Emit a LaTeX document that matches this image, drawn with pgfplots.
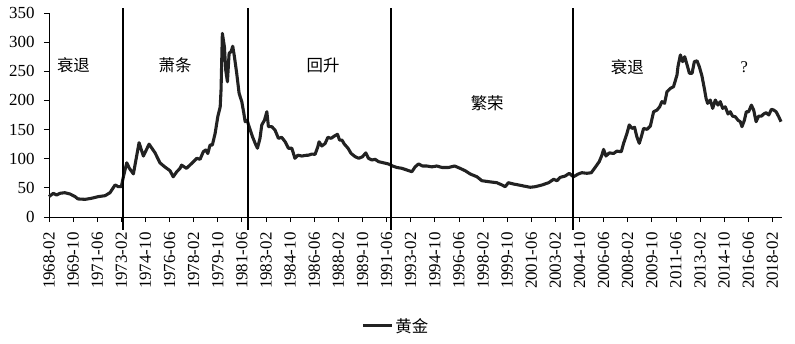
\documentclass[border=0pt]{standalone}
\usepackage{pgfplots}
\pgfplotsset{compat=1.18}
\usepackage{fontspec}
\setmainfont{Liberation Serif}
\newfontfamily\cjk{Noto Sans CJK SC}
\definecolor{lineblk}{HTML}{222222}
\begin{document}
\begin{tikzpicture}
\path[use as bounding box] (-49bp,-127bp) rectangle (746bp,217bp);
\begin{axis}[
 at={(0,0)}, anchor=south west,
 scale only axis, width=733bp, height=204bp,
 xmin=0, xmax=608, ymin=0, ymax=350,
 axis lines=left, axis line style={-, line width=0.8pt},
 ytick={0,50,...,350},
 xtick={0,20,...,600},
 xticklabels={1968-02,1969-10,1971-06,1973-02,1974-10,1976-06,1978-02,1979-10,1981-06,1983-02,1984-10,1986-06,1988-02,1989-10,1991-06,1993-02,1994-10,1996-06,1998-02,1999-10,2001-06,2003-02,2004-10,2006-06,2008-02,2009-10,2011-06,2013-02,2014-10,2016-06,2018-02},
 tick align=outside, major tick length=5bp,
 tick style={black, line width=0.8pt},
 xticklabel shift=7bp, yticklabel shift=6bp,
 x tick label style={rotate=90, anchor=east, font=\fontsize{17}{17}\selectfont},
 y tick label style={font=\fontsize{17}{17}\selectfont},
 /pgf/number format/assume math mode=true,
 clip=false,
 legend style={at={(axis description cs:0.473,-0.534)}, anchor=center, draw=none, fill=none, font=\cjk\fontsize{16.5}{17}\selectfont, /tikz/every legend entry/.append style={inner xsep=6bp}},
 legend image code/.code={\draw[#1] (0bp,0bp) -- (29bp,0bp);},
]
\addplot[lineblk, line width=3.1pt, line join=round] coordinates {
(0,35) (3.6,40.6) (6.4,37.7) (9,40.6) (13,41.7) (17.4,39.5) (21.6,35) (24,31) (30,30.3) (35,32) (41,35) (46.5,36.6) (50.6,41.7) (54.8,55) (57.5,52) (60,52) (61.7,69) (64.5,93) (66.7,83.5) (70,74) (74.7,127.5) (78.3,104.6) (83,125) (88,110) (92,93) (96,86) (100.4,79.4) (103,69) (106,77.7) (108.7,83.5)
(110,89) (114,83.5) (118.4,92) (122.6,100.7) (125.3,99) (128,112) (130,115) (131.7,109) (133.6,123.5) (135.5,123.5) (137.8,143.5) (140,172) (142,189) (142.7,218) (143.8,315) (145.5,292) (146.6,252) (148,232) (149.4,281) (151,283.5) (152.4,293) (153.8,275) (155.7,246.5) (157.7,212) (159.9,198) (161.6,178) (162.7,163.5) (164.3,166) (166,155) (168.8,137.7) (171,126.4) (172.9,118) (175,135) (176.5,158) (178.7,166) (180.7,180.6) (182,155) (184.8,155) (187.5,149) (190.3,135) (193,136.7) (195.9,129) (198.6,118) (201.4,118) (204,100.7) (206.4,106) (209.7,104.6) (213.8,106)
(215,106) (218,108) (220.7,107.5) (223,120.6) (224,129) (226.3,121.8) (229,126) (231.3,136.7) (234,135) (236.8,139) (239.3,142) (241,132) (243,132) (245,125) (248,118) (250.6,109) (254,103.4) (257,100.7) (260,103.4) (262.8,110) (265,100.7) (267.8,97.8) (270.5,99) (273.3,95) (277.4,93) (281.6,91) (285,87.5) (288.5,85) (292.7,83.5) (296.9,80.6) (301,77.7) (303.7,86) (306.5,91) (309.8,87.5) (313.4,87.5) (317.6,86) (321.7,87.5)
(325.9,85) (331.4,85) (336.4,87.5) (341,83.5) (345.2,79.4) (349.4,73.8) (355,69) (359,62.3) (364.6,60.6) (371.5,58.8) (375.7,55) (378.4,52) (381,58.8) (385.3,56.6) (389.5,55) (393.6,53.2) (399.2,51) (403.3,52) (409,55) (414.4,58.8) (418.6,64.7) (421.3,62.3) (424,68) (428.2,70.3)
(431.5,75) (435,69) (439,73.8) (442,76) (446.2,75) (449.8,76) (453,85) (456.4,95) (458.6,106) (460,116) (462,104.6) (464.7,110) (468.3,109) (471,113) (474.7,112) (476.6,126.4) (479.4,143.5) (481.3,158) (483.6,152) (485.7,154) (487.6,137.7) (489.6,126.4) (491.3,137.7) (493.2,152) (496,150.4) (498.8,156) (501.5,180.6) (504.3,183.5) (506.5,189) (508.4,198) (510.6,195) (512.6,215) (515.4,220.7) (518,223.5) (520.9,243.6)
(521.7,258) (523.7,278) (525.6,266.5) (527.3,275) (529.3,260.7) (531.2,246.5) (533.4,246.5) (535.3,266.5) (537.5,268) (539.4,258) (541.6,242) (543.8,218) (545,203.6) (546.3,195) (548.5,200.7) (550.5,186.4) (552.7,200.7) (554.9,192) (556.8,198) (558.8,186.4) (561,189) (563.2,176.7) (565.1,180.6) (567,173) (569.3,172) (571.5,166) (573.4,163.5) (574.8,155) (576.8,166) (578.4,180.6) (580.3,180.6) (582.6,192) (584.5,183.5) (586.5,163.5) (588.6,173) (590.9,173) (592.8,176.7) (594.8,179) (597,175) (599.2,184.7) (601.1,183.5) (603.1,180.6) (605.3,172) (607.2,163.5)
};
\addlegendentry{黄金}
\addplot[black, line width=2pt, forget plot] coordinates {(61.5,-22) (61.5,358)};
\addplot[black, line width=2pt, forget plot] coordinates {(165,-22) (165,358)};
\addplot[black, line width=2pt, forget plot] coordinates {(284,-22) (284,358)};
\addplot[black, line width=2pt, forget plot] coordinates {(435,-22) (435,358)};
\node[font=\cjk\fontsize{16.5}{17}\selectfont] at (axis cs:20.3,260.7) {衰退};
\node[font=\cjk\fontsize{16.5}{17}\selectfont] at (axis cs:104.6,260.7) {萧条};
\node[font=\cjk\fontsize{16.5}{17}\selectfont] at (axis cs:227.4,260.7) {回升};
\node[font=\cjk\fontsize{16.5}{17}\selectfont] at (axis cs:363.5,195.5) {繁荣};
\node[font=\cjk\fontsize{16.5}{17}\selectfont] at (axis cs:479.7,257) {衰退};
\node[font=\fontsize{16.5}{17}\selectfont] at (axis cs:576.8,257) {?};
\end{axis}
\end{tikzpicture}
\end{document}
